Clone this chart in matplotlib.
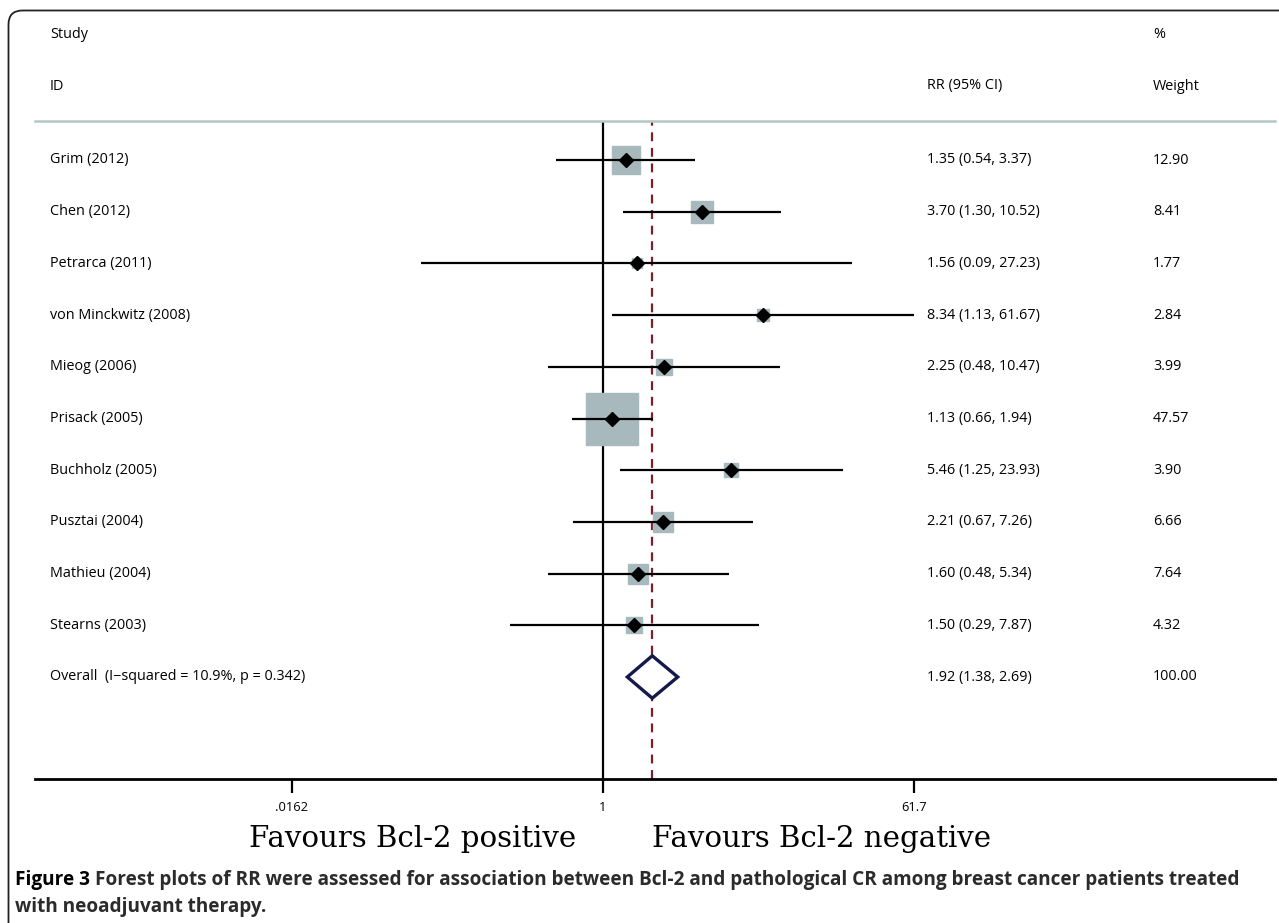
import numpy as np
import matplotlib
matplotlib.use("Agg")
import matplotlib.pyplot as plt
from matplotlib.patches import FancyBboxPatch, Polygon
from matplotlib.lines import Line2D
from matplotlib.transforms import IdentityTransform, blended_transform_factory

# ---------------- data ----------------
studies = ["Grim (2012)", "Chen (2012)", "Petrarca (2011)", "von Minckwitz (2008)",
           "Mieog (2006)", "Prisack (2005)", "Buchholz (2005)", "Pusztai (2004)",
           "Mathieu (2004)", "Stearns (2003)"]
rr = [1.35, 3.70, 1.56, 8.34, 2.25, 1.13, 5.46, 2.21, 1.60, 1.50]
lo = [0.54, 1.30, 0.09, 1.13, 0.48, 0.66, 1.25, 0.67, 0.48, 0.29]
hi = [3.37, 10.52, 27.23, 61.67, 10.47, 1.94, 23.93, 7.26, 5.34, 7.87]
weights = [12.90, 8.41, 1.77, 2.84, 3.99, 47.57, 3.90, 6.66, 7.64, 4.32]
overall_label = "Overall  (I\u2212squared = 10.9%, p = 0.342)"
overall_rr, overall_lo, overall_hi = 1.92, 1.38, 2.69
xticks = [0.0162, 1, 61.7]
xtick_labels = [".0162", "1", "61.7"]

W, H, DPI = 1279, 923, 100
fig = plt.figure(figsize=(W / DPI, H / DPI), dpi=DPI)
fig.patch.set_facecolor("white")

def fx(px):
    return px / W

def fy(py):
    return 1 - py / H

# outer rounded frame
frame = FancyBboxPatch((8.5, -40), 1320, 923 - 10 + 40 - 0.5,
                       boxstyle="round,pad=0,rounding_size=14",
                       transform=IdentityTransform(), facecolor="none",
                       edgecolor="#222222", lw=1.3)
fig.patches.append(frame)

# main axes: pixel x 35..1275, y 121..779
ax_l, ax_r, ax_t, ax_b = 35, 1275, 121, 779
ax = fig.add_axes([fx(ax_l), fy(ax_b), fx(ax_r - ax_l), (ax_b - ax_t) / H])
ax.set_xscale("log")
# pixel = 603 + 75.5*ln(v)
xmin = np.exp((ax_l - 603) / 75.5)
xmax = np.exp((ax_r - 603) / 75.5)
ax.set_xlim(xmin, xmax)
row0, step = 160, 51.7
ax.set_ylim((ax_b - row0) / step, (ax_t - row0) / step)
ax.patch.set_alpha(0)
for s in ["top", "left", "right"]:
    ax.spines[s].set_visible(False)
ax.spines["bottom"].set_linewidth(2.0)
ax.set_yticks([])
ax.set_xticks(xticks)
ax.set_xticklabels(xtick_labels)
ax.xaxis.set_minor_locator(matplotlib.ticker.NullLocator())
ax.tick_params(axis="x", length=10, width=1.6, direction="out", pad=6,
               labelsize=9.3, labelfontfamily="Open Sans")

# reference lines
ax.axvline(1, color="black", lw=1.6, zorder=1)
ax.axvline(overall_rr, color="#7d1f2b", lw=1.6, ls=(0, (4, 3)), zorder=1)

rows = np.arange(len(studies))
sq_color = "#a8b9be"
for i in rows:
    ms = 37.5 * np.sqrt(weights[i] / max(weights))
    ax.plot([rr[i]], [i], marker="s", ms=ms, color=sq_color, mec=sq_color, zorder=2)
    ax.plot([lo[i], hi[i]], [i, i], color="black", lw=1.6, zorder=3,
            solid_capstyle="butt")
    ax.plot([rr[i]], [i], marker="D", ms=6.8, color="black", zorder=4)

# overall diamond
yo = len(studies)
dh = 0.41
diamond = Polygon([(overall_lo, yo), (overall_rr, yo - dh), (overall_hi, yo),
                   (overall_rr, yo + dh)], closed=True, facecolor="white",
                  edgecolor="#141a4a", lw=2.4, zorder=5, joinstyle="miter")
ax.add_patch(diamond)

# text columns
tf = "Open Sans"
fs = 10.4
tr = blended_transform_factory(fig.transFigure, ax.transData)
for i in rows:
    ax.text(fx(50), i, studies[i], transform=tr, fontsize=fs, family=tf,
            va="center", ha="left")
    ax.text(fx(927), i, f"{rr[i]:.2f} ({lo[i]:.2f}, {hi[i]:.2f})", transform=tr,
            fontsize=fs, family=tf, va="center", ha="left")
    ax.text(fx(1153), i, f"{weights[i]:.2f}", transform=tr, fontsize=fs,
            family=tf, va="center", ha="left")
ax.text(fx(50), yo, overall_label, transform=tr, fontsize=fs, family=tf,
        va="center", ha="left")
ax.text(fx(927), yo, f"{overall_rr:.2f} ({overall_lo:.2f}, {overall_hi:.2f})",
        transform=tr, fontsize=fs, family=tf, va="center", ha="left")
ax.text(fx(1153), yo, f"{sum(weights):.2f}", transform=tr, fontsize=fs,
        family=tf, va="center", ha="left")

# headers
fig.text(fx(50), fy(35), "Study", fontsize=fs, family=tf, va="center", ha="left")
fig.text(fx(50), fy(86), "ID", fontsize=fs, family=tf, va="center", ha="left")
fig.text(fx(1153), fy(35), "%", fontsize=fs, family=tf, va="center", ha="left")
fig.text(fx(1153), fy(86), "Weight", fontsize=fs, family=tf, va="center", ha="left")
fig.text(fx(927), fy(86), "RR (95% CI)", fontsize=fs, family=tf, va="center", ha="left")

# header separator
fig.lines.append(Line2D([fx(35), fx(1275)], [fy(121), fy(121)],
                        transform=fig.transFigure, color="#b4c7c7", lw=1.8))

# favours labels
fig.text(fx(413), fy(839), "Favours Bcl-2 positive", fontsize=21.1,
         family="DejaVu Serif", va="center", ha="center")
fig.text(fx(822), fy(839), "Favours Bcl-2 negative", fontsize=21.1,
         family="DejaVu Serif", va="center", ha="center")

# caption
cap_fs = 13.65
cap_font = "Open Sans"
renderer = fig.canvas.get_renderer()
t1 = fig.text(fx(15), fy(880), "Figure 3", fontsize=cap_fs, family=cap_font,
              weight="bold", color="black", va="center", ha="left")
bb = t1.get_window_extent(renderer=renderer)
fig.text((bb.x1 + 5) / W, fy(880),
         "Forest plots of RR were assessed for association between Bcl-2 and "
         "pathological CR among breast cancer patients treated",
         fontsize=cap_fs, family=cap_font, weight="bold", color="#2b2b2b",
         va="center", ha="left")
fig.text(fx(15), fy(907), "with neoadjuvant therapy.", fontsize=cap_fs,
         family=cap_font, weight="bold", color="#2b2b2b", va="center", ha="left")

fig.savefig("out.png", dpi=DPI, facecolor="white")
